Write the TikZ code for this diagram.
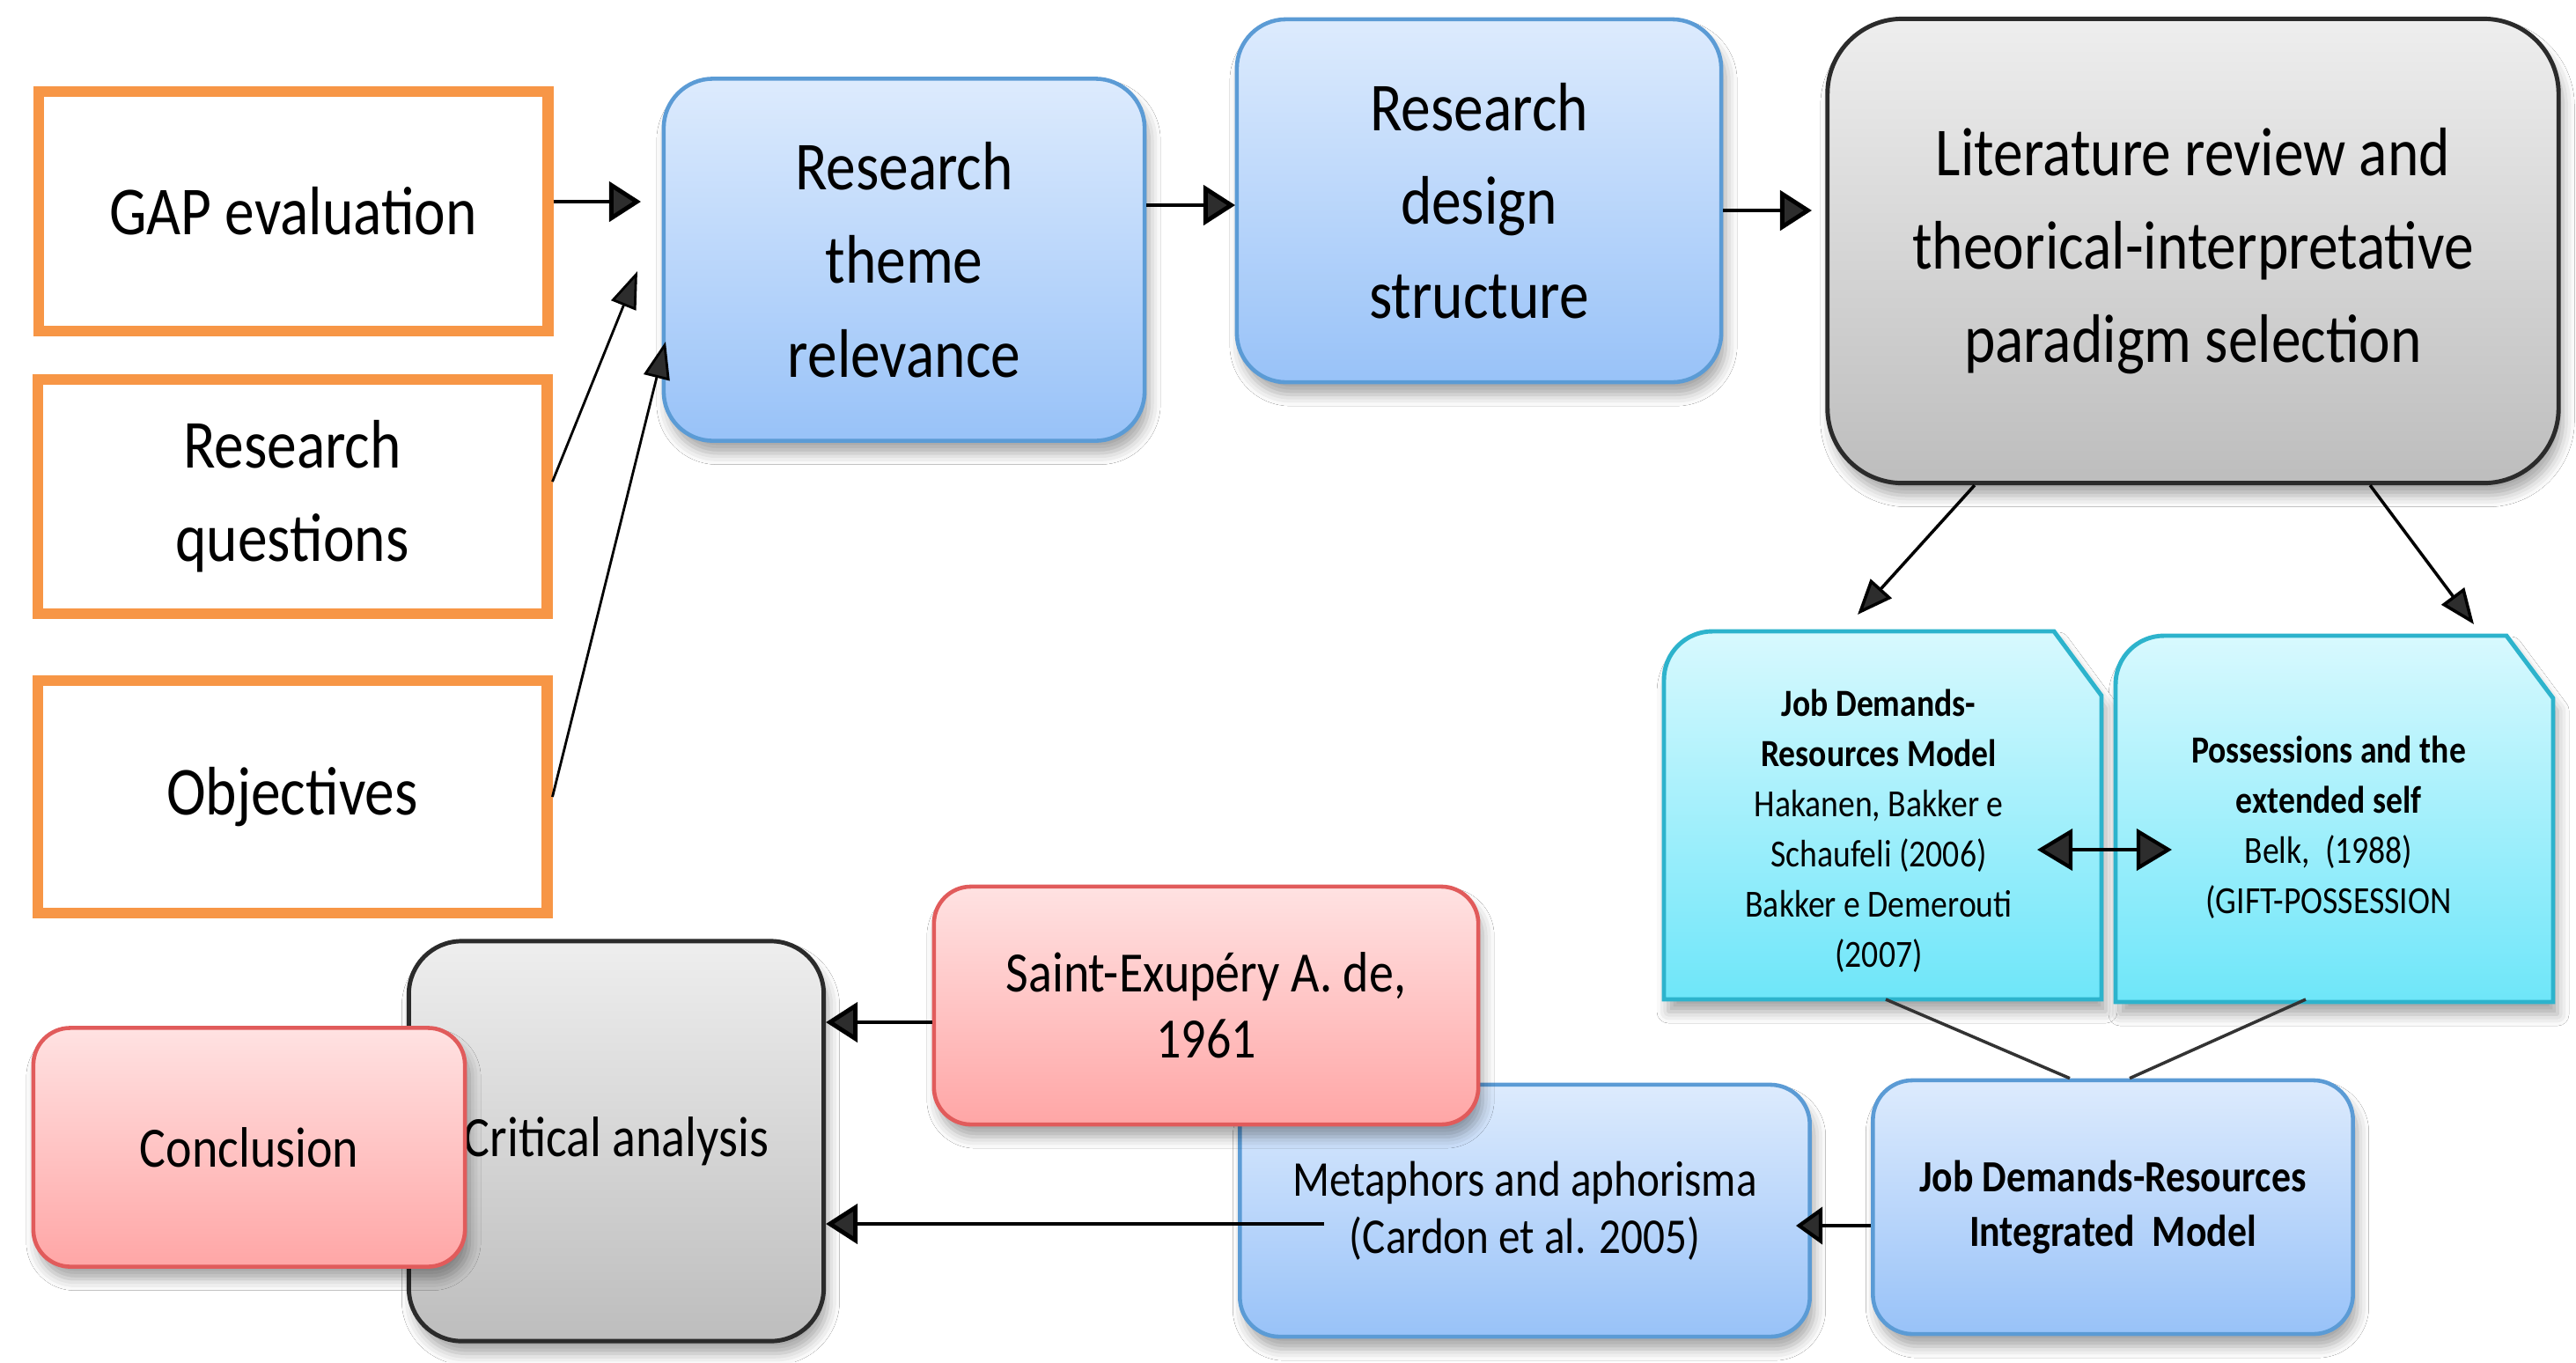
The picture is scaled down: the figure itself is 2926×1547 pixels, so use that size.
\documentclass[tikz,border=0pt]{standalone}
\usepackage{fontspec}
\usepackage{graphicx}
\setmainfont{Carlito}
\usetikzlibrary{arrows.meta,shadows.blur}
\definecolor{orng}{HTML}{F79646}
\definecolor{bluetop}{HTML}{DDEBFD}
\definecolor{bluebot}{HTML}{98C2F8}
\definecolor{blueline}{HTML}{5B9BD5}
\definecolor{graytop}{HTML}{EEEEEE}
\definecolor{graybot}{HTML}{BDBDBD}
\definecolor{grayline}{HTML}{2B2B2B}
\definecolor{cyantop}{HTML}{D8F9FE}
\definecolor{cyanbot}{HTML}{6EE6F9}
\definecolor{cyanline}{HTML}{2DB3CC}
\definecolor{redtop}{HTML}{FFE2E2}
\definecolor{redbot}{HTML}{FFA6A6}
\definecolor{redline}{HTML}{E15B5B}
\newcommand\fBig{\fontsize{18.8pt}{30.2pt}\selectfont}
\newcommand\fMid{\fontsize{15.6pt}{21.3pt}\selectfont}
\newcommand\fMet{\fontsize{13.7pt}{18.5pt}\selectfont}
\newcommand\fJdr{\fontsize{12.2pt}{17.6pt}\selectfont}
\newcommand\fCy{\fontsize{10.5pt}{16.2pt}\selectfont}
\newcommand\vs[1]{\scalebox{1.02}[1.18]{#1}}
\tikzset{
 shd/.style={blur shadow={shadow xshift=0.05cm, shadow yshift=-0.14cm, shadow blur radius=0.13cm, shadow opacity=35}},
 orangebox/.style={draw=orng, line width=3.6pt, fill=white, align=center, font=\fBig, inner sep=0pt},
 bluebox/.style={shd, draw=blueline, line width=1.3pt, top color=bluetop, bottom color=bluebot, rounded corners=0.56cm, align=center, inner sep=0pt},
 graybox/.style={shd, draw=grayline, line width=1.4pt, top color=graytop, bottom color=graybot, align=center, inner sep=0pt},
 redbox/.style={shd, draw=redline, line width=1.3pt, top color=redtop, bottom color=redbot, rounded corners=0.42cm, align=center, inner sep=0pt},
 cyanshape/.style={shd, draw=cyanline, line width=1.4pt, top color=cyantop, bottom color=cyanbot},
 cyantext/.style={align=center, font=\fCy, inner sep=0pt},
 arr/.style={line width=1.4pt, -{Triangle[length=0.36cm,width=0.45cm]}},
 thinarr/.style={line width=0.8pt, -{Triangle[length=0.42cm,width=0.3cm]}},
 medarr/.style={line width=1pt, -{Triangle[length=0.4cm,width=0.32cm]}},
 dblarr/.style={line width=1.2pt, {Triangle[length=0.4cm,width=0.47cm]}-{Triangle[length=0.4cm,width=0.47cm]}},
 smallarr/.style={line width=1.2pt, -{Triangle[length=0.3cm,width=0.42cm]}},
 conn/.style={line width=1pt, draw=black!80},
}
\begin{document}
\begin{tikzpicture}[x=0.01cm, y=-0.01cm]
\useasboundingbox[fill=white] (0,0) rectangle (2926,1547);

% left orange boxes
\node[orangebox, minimum width=5.78cm, minimum height=2.72cm] (gap) at (333,240) {\vs{GAP evaluation}};
\node[orangebox, minimum width=5.78cm, minimum height=2.66cm] (rq) at (332,564) {\vs{Research}\\\vs{questions}};
\node[orangebox, minimum width=5.78cm, minimum height=2.64cm] (obj) at (332,905) {\vs{Objectives}};

% top row
\node[bluebox, font=\fBig, minimum width=5.46cm, minimum height=4.11cm] (rtr) at (1027,295) {\vs{Research}\\\vs{theme}\\\vs{relevance}};
\node[bluebox, font=\fBig, minimum width=5.50cm, minimum height=4.12cm] (rds) at (1680,228) {\vs{Research}\\\vs{design}\\\vs{structure}};
\node[graybox, font=\fBig, rounded corners=0.85cm, minimum width=8.30cm, minimum height=5.27cm] (lit) at (2491,285) {\vs{Literature review and}\\\vs{theorical-interpretative}\\\vs{paradigm selection}};

% cyan boxes
\path[cyanshape] (1890,1135) -- (1890,900) [rounded corners=0.55cm] -- (1890,717) -- (2100,717) [sharp corners] -- (2333,717) -- (2387,790) -- (2387,1135) -- cycle;
\path[cyanshape] (2403,1138) -- (2403,900) [rounded corners=0.55cm] -- (2403,722) -- (2600,722) [sharp corners] -- (2847,722) -- (2900,793) -- (2900,1138) -- cycle;
\node[cyantext] (jdr) at (2134,944) {\vs{\textbf{Job Demands-}}\\\vs{\textbf{Resources Model}}\\\vs{Hakanen, Bakker e}\\\vs{Schaufeli (2006)}\\\vs{Bakker e Demerouti}\\\vs{(2007)}};
\node[cyantext] (pos) at (2645,940) {\vs{\textbf{Possessions and the}}\\\vs{\textbf{extended self}}\\\vs{Belk,\ \ (1988)}\\\vs{(GIFT-POSSESSION}};

% bottom row
\node[bluebox, font=\fJdr, rounded corners=0.45cm, minimum width=5.45cm, minimum height=2.88cm] (jdri) at (2400,1371) {\vs{\textbf{Job Demands-Resources}}\\\vs{\textbf{Integrated\ \ Model}}};
\node[bluebox, font=\fMet, rounded corners=0.45cm, minimum width=6.47cm, minimum height=2.86cm] (met) at (1732,1375) {\vs{Metaphors and aphorisma}\\\vs{(Cardon et al. 2005)}};
\node[redbox, font=\fMid, minimum width=6.18cm, minimum height=2.70cm] (stx) at (1370,1142) {\vs{Saint-Exupéry A. de,}\\\vs{1961}};
\node[graybox, font=\fMid, rounded corners=0.6cm, minimum width=4.71cm, minimum height=4.54cm] (crit) at (700,1296) {\vs{Critical analysis}};
\node[redbox, font=\fMid, minimum width=4.90cm, minimum height=2.71cm] (conc) at (283,1303) {\vs{Conclusion}};

% connectors
\coordinate (t1) at (728,229);
\draw[arr] (gap.east |- t1) -- (t1);
\coordinate (t2) at (724,308);
\draw[thinarr] ([yshift=0.17cm]rq.east) -- (t2);
\coordinate (t3) at (756,388);
\draw[thinarr] (obj.east) -- (t3);
\coordinate (t4) at (1403,233);
\draw[arr] (rtr.east |- t4) -- (t4);
\coordinate (t5) at (2058,239);
\draw[arr] (rds.east |- t5) -- (t5);
\coordinate (t6) at (2110,698);
\draw[medarr] ([xshift=-2.48cm]lit.south) -- (t6);
\coordinate (t7) at (2810,709);
\draw[medarr] ([xshift=2.01cm]lit.south) -- (t7);
\coordinate (d1) at (2314,965);
\coordinate (d2) at (2467,965);
\draw[dblarr] (d1) -- (d2);
\coordinate (jb) at (2142,1135);
\coordinate (pb) at (2619,1135);
\draw[conn] (jb) -- ([xshift=-0.49cm]jdri.north);
\draw[conn] (pb) -- ([xshift=0.19cm]jdri.north);
\coordinate (t8) at (2040,1392);
\draw[smallarr] (jdri.west |- t8) -- (t8);
\coordinate (m0) at (1504,1390);
\draw[arr] (m0) -- (crit.east |- m0);
\coordinate (s0) at (1061,1161);
\draw[arr] (stx.west |- s0) -- (crit.east |- s0);
\end{tikzpicture}
\end{document}
